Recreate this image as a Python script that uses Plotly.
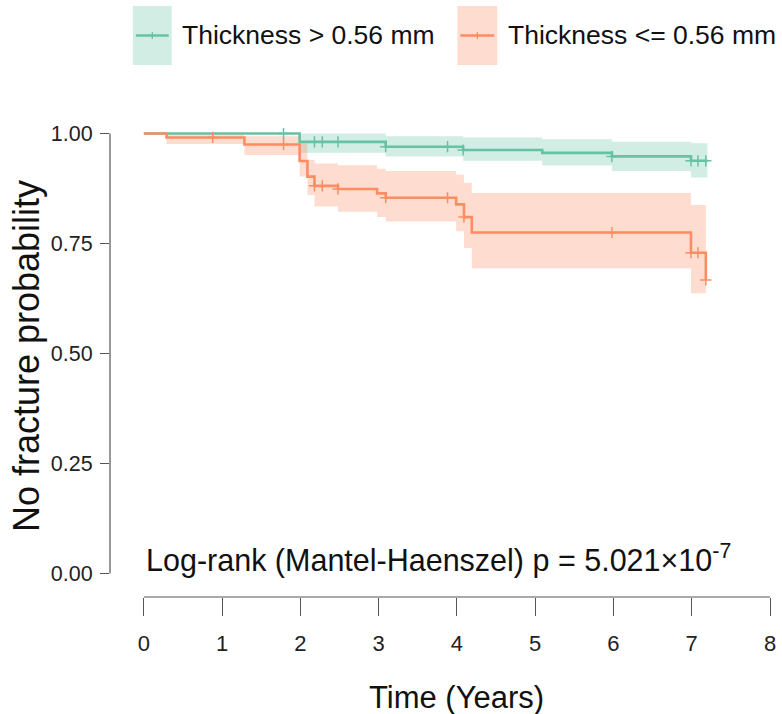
import plotly.graph_objects as go

# ---------------- data ----------------
green_name = "Thickness > 0.56 mm"
green_time = [0, 1.99, 3.09, 4.08, 5.09, 5.98, 6.99, 7.20]
green_surv = [1.0, 0.981, 0.970, 0.9625, 0.956, 0.948, 0.938, 0.938]
green_upper = [1.0, 1.0, 0.994, 0.991, 0.987, 0.981, 0.978, 0.978]
green_lower = [1.0, 0.956, 0.948, 0.938, 0.927, 0.915, 0.900, 0.900]
green_cens_time = [1.785, 2.18, 2.28, 2.48, 3.09, 3.88, 4.08, 5.98, 6.99, 7.08, 7.18]
green_cens_surv = [1.0, 0.981, 0.981, 0.981, 0.970, 0.970, 0.9625, 0.948, 0.938, 0.938, 0.938]

orange_name = "Thickness <= 0.56 mm"
orange_time = [0, 0.29, 1.285, 1.99, 2.09, 2.18, 2.48, 2.98, 3.09, 3.99, 4.09, 4.19, 6.99, 7.18]
orange_surv = [1.0, 0.991, 0.975, 0.9375, 0.902, 0.881, 0.874, 0.864, 0.854, 0.839, 0.81, 0.775, 0.729, 0.667]
orange_upper = [1.0, 1.0, 0.994, 0.978, 0.94, 0.932, 0.928, 0.92, 0.915, 0.906, 0.888, 0.865, 0.8375, 0.8375]
orange_lower = [1.0, 0.976, 0.951, 0.902, 0.86, 0.834, 0.822, 0.81, 0.80, 0.778, 0.74, 0.694, 0.637, 0.637]
orange_cens_time = [0.88, 1.785, 2.18, 2.28, 2.48, 3.09, 3.88, 4.09, 5.98, 6.99, 7.08, 7.18]
orange_cens_surv = [0.991, 0.975, 0.881, 0.881, 0.874, 0.854, 0.854, 0.81, 0.775, 0.729, 0.729, 0.667]

x_ticks = [0, 1, 2, 3, 4, 5, 6, 7, 8]
y_ticks = [0, 0.25, 0.5, 0.75, 1.0]
y_ticktext = ["0.00", "0.25", "0.50", "0.75", "1.00"]

x_title = "Time (Years)"
y_title = "No fracture probability"
pval_text = "Log-rank (Mantel-Haenszel) p = 5.021×10<sup>-7</sup>"

# ---------------- style ----------------
W, H = 782, 714
ML, MR, MT, MB = 110, 6, 105, 117
GREEN = "#66C2A5"
ORANGE = "#FC8D62"
GREEN_FILL = "rgba(102,194,165,0.30)"
ORANGE_FILL = "rgba(252,141,98,0.30)"
AXIS_COL = "#555555"
TEXT_COL = "#111111"
FONT = "Liberation Sans, Arial, Helvetica, sans-serif"

PW = W - ML - MR
PH = H - MT - MB


def px_x(p):
    return (p - ML) / PW


def px_y(p):
    return (H - MB - p) / PH


fig = go.Figure()


def add_band(t, up, lo, fillcol):
    fig.add_trace(go.Scatter(x=t, y=lo, mode="lines", line=dict(width=0, shape="hv"),
                             hoverinfo="skip", showlegend=False))
    fig.add_trace(go.Scatter(x=t, y=up, mode="lines", line=dict(width=0, shape="hv"),
                             fill="tonexty", fillcolor=fillcol, hoverinfo="skip", showlegend=False))


add_band(green_time, green_upper, green_lower, GREEN_FILL)
add_band(orange_time, orange_upper, orange_lower, ORANGE_FILL)

fig.add_trace(go.Scatter(x=green_time, y=green_surv, mode="lines", name=green_name,
                         line=dict(color=GREEN, width=2.6, shape="hv"), showlegend=False))
fig.add_trace(go.Scatter(x=orange_time, y=orange_surv, mode="lines", name=orange_name,
                         line=dict(color=ORANGE, width=2.6, shape="hv"), showlegend=False))

fig.add_trace(go.Scatter(x=green_cens_time, y=green_cens_surv, mode="markers", showlegend=False,
                         marker=dict(symbol="cross-thin", size=8, color=GREEN,
                                     line=dict(color=GREEN, width=1.5))))
fig.add_trace(go.Scatter(x=orange_cens_time, y=orange_cens_surv, mode="markers", showlegend=False,
                         marker=dict(symbol="cross-thin", size=8, color=ORANGE,
                                     line=dict(color=ORANGE, width=1.5))))

shapes = []
# axis lines (R-style, spanning only the tick range)
shapes.append(dict(type="line", xref="paper", yref="y", x0=0, x1=0, y0=0, y1=1,
                   line=dict(color=AXIS_COL, width=1.2)))
shapes.append(dict(type="line", xref="x", yref="paper", x0=x_ticks[0], x1=x_ticks[-1], y0=0, y1=0,
                   line=dict(color=AXIS_COL, width=1.2)))

# manual legend
legend_items = [(133, 172, GREEN, GREEN_FILL, green_name, 180),
                (459, 499, ORANGE, ORANGE_FILL, orange_name, 508)]
annotations = []
for x0, x1, col, fillc, name, tx in legend_items:
    shapes.append(dict(type="rect", xref="paper", yref="paper",
                       x0=px_x(x0), x1=px_x(x1), y0=px_y(65), y1=px_y(6),
                       fillcolor=fillc, line=dict(width=0)))
    shapes.append(dict(type="line", xref="paper", yref="paper",
                       x0=px_x(x0 + 3), x1=px_x(x1 - 3), y0=px_y(35.5), y1=px_y(35.5),
                       line=dict(color=col, width=2.4)))
    xm = (x0 + x1) / 2
    shapes.append(dict(type="line", xref="paper", yref="paper",
                       x0=px_x(xm), x1=px_x(xm), y0=px_y(32), y1=px_y(39),
                       line=dict(color=col, width=1.3)))
    annotations.append(dict(text=name, xref="paper", yref="paper", x=px_x(tx), y=px_y(35.5),
                            xanchor="left", yanchor="middle", showarrow=False,
                            font=dict(size=26.5, color=TEXT_COL, family=FONT)))

annotations.append(dict(text=pval_text, xref="x", yref="y", x=0, y=0.033,
                        xanchor="left", yanchor="middle", showarrow=False,
                        font=dict(size=30.5, color=TEXT_COL, family=FONT)))
annotations.append(dict(text=x_title, xref="x", yref="paper", x=4, y=px_y(697),
                        xanchor="center", yanchor="middle", showarrow=False,
                        font=dict(size=31, color=TEXT_COL, family=FONT)))
annotations.append(dict(text=y_title, xref="paper", yref="y", x=px_x(26), y=0.495,
                        xanchor="center", yanchor="middle", showarrow=False, textangle=-90,
                        font=dict(size=36, color=TEXT_COL, family=FONT)))

x_lo = -(144 - ML) / 78.625
x_hi = 8 + (W - MR - 773) / 78.625
y_lo = -((H - MB) - 573.5) / 440
y_hi = 1 + (133.5 - MT) / 440

fig.update_layout(
    width=W, height=H,
    margin=dict(l=ML, r=MR, t=MT, b=MB, pad=0),
    paper_bgcolor="white", plot_bgcolor="white",
    font=dict(family=FONT, color="#222222"),
    showlegend=False,
    shapes=shapes, annotations=annotations,
    xaxis=dict(range=[x_lo, x_hi], tickvals=x_ticks, ticks="outside", ticklen=18, tickwidth=1.2,
               tickcolor=AXIS_COL, showline=False, showgrid=False, zeroline=False,
               tickfont=dict(size=22, color="#222222"), ticklabelstandoff=9, fixedrange=True),
    yaxis=dict(range=[y_lo, y_hi], tickvals=y_ticks, ticktext=y_ticktext, ticks="outside",
               ticklen=9, tickwidth=1.2, tickcolor=AXIS_COL, showline=False, showgrid=False,
               zeroline=False, tickfont=dict(size=21.5, color="#222222"), ticklabelstandoff=3,
               fixedrange=True),
)

fig.write_html("out.html")
